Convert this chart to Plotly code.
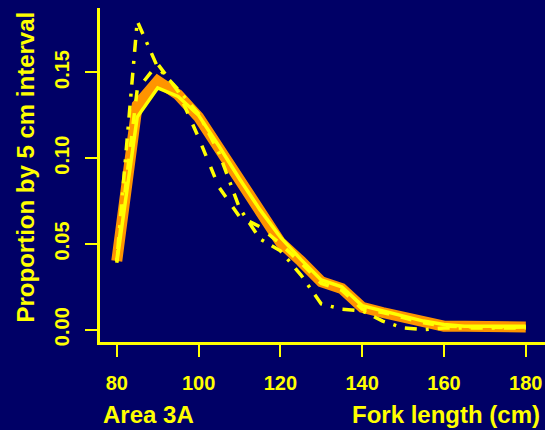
import plotly.graph_objects as go

# Fork length bins (cm), 5 cm intervals
length_cm = [80, 85, 90, 95, 100, 105, 110, 115, 120, 125, 130,
             135, 140, 145, 150, 155, 160, 165, 170, 175, 180]

# Proportion of fish in each 5 cm interval
fitted = [0.040, 0.131, 0.145, 0.137, 0.124, 0.105, 0.086, 0.067, 0.051, 0.040, 0.028,
          0.024, 0.013, 0.010, 0.007, 0.004, 0.002, 0.002, 0.0015, 0.0012, 0.0015]
observed = [0.039, 0.124, 0.141, 0.136, 0.125, 0.107, 0.088, 0.070, 0.054, 0.041, 0.029,
            0.025, 0.014, 0.011, 0.008, 0.005, 0.003, 0.002, 0.002, 0.002, 0.002]
survey_a = [0.040, 0.180, 0.153, 0.140, 0.126, 0.103, 0.071, 0.053, 0.046, 0.032, 0.015,
            0.012, 0.011, 0.005, 0.001, 0.000, 0.001, 0.001, 0.001, 0.001, 0.001]
survey_b = [0.040, 0.140, 0.155, 0.139, 0.112, 0.083, 0.066, 0.060, 0.050, 0.039, 0.027,
            0.023, 0.012, 0.010, 0.007, 0.004, 0.002, 0.002, 0.0015, 0.0012, 0.0015]

x_ticks = [80, 100, 120, 140, 160, 180]
y_ticks = [0.00, 0.05, 0.10, 0.15]
y_tick_text = ["0.00", "0.05", "0.10", "0.15"]

BG = "#000066"
YELLOW = "#FFFF00"
ORANGE = "#FF9400"
FONT = "Liberation Sans, Arial, sans-serif"

fig = go.Figure()
fig.add_trace(go.Scatter(x=length_cm, y=fitted, mode="lines",
                         line=dict(color=ORANGE, width=11)))
fig.add_trace(go.Scatter(x=length_cm, y=observed, mode="lines",
                         line=dict(color=YELLOW, width=3.5)))
fig.add_trace(go.Scatter(x=length_cm, y=survey_b, mode="lines",
                         line=dict(color=YELLOW, width=3.5, dash="11px,12px")))
fig.add_trace(go.Scatter(x=length_cm, y=survey_a, mode="lines",
                         line=dict(color=YELLOW, width=3.5, dash="3px,9px,12px,9px")))

axis_font = dict(family=FONT, size=20, color=YELLOW, weight="bold")

fig.update_layout(
    width=545, height=430,
    margin=dict(l=100, r=0, t=8, b=88),
    paper_bgcolor=BG, plot_bgcolor=BG,
    showlegend=False,
    xaxis=dict(range=[75.9, 184.7], tickvals=x_ticks, ticks="outside",
               ticklen=12, tickwidth=2, tickcolor=YELLOW,
               showline=True, linecolor=YELLOW, linewidth=3,
               showgrid=False, zeroline=False, tickfont=axis_font,
               ticklabelstandoff=9),
    yaxis=dict(range=[-0.0072, 0.1876], tickvals=y_ticks, ticktext=y_tick_text,
               ticks="outside", ticklen=12, tickwidth=2, tickcolor=YELLOW,
               showline=True, linecolor=YELLOW, linewidth=3,
               showgrid=False, zeroline=False, tickfont=axis_font,
               tickangle=-90, ticklabelstandoff=8),
)

title_font = dict(family=FONT, size=24, color=YELLOW, weight="bold")
fig.add_annotation(text="Area 3A", xref="paper", yref="paper",
                   x=0.002, y=(342 - 430) / 334, xanchor="left", yanchor="bottom",
                   showarrow=False, font=title_font)
fig.add_annotation(text="Fork length (cm)", xref="paper", yref="paper",
                   x=441.5 / 445, y=(342 - 430) / 334, xanchor="right", yanchor="bottom",
                   showarrow=False, font=title_font)
fig.add_annotation(text="Proportion by 5 cm interval", xref="paper", yref="paper",
                   x=(25 - 100) / 445, y=(342 - 167.5) / 334, xanchor="center",
                   yanchor="middle", textangle=-90, showarrow=False, font=title_font)

fig.write_html("out.html")
